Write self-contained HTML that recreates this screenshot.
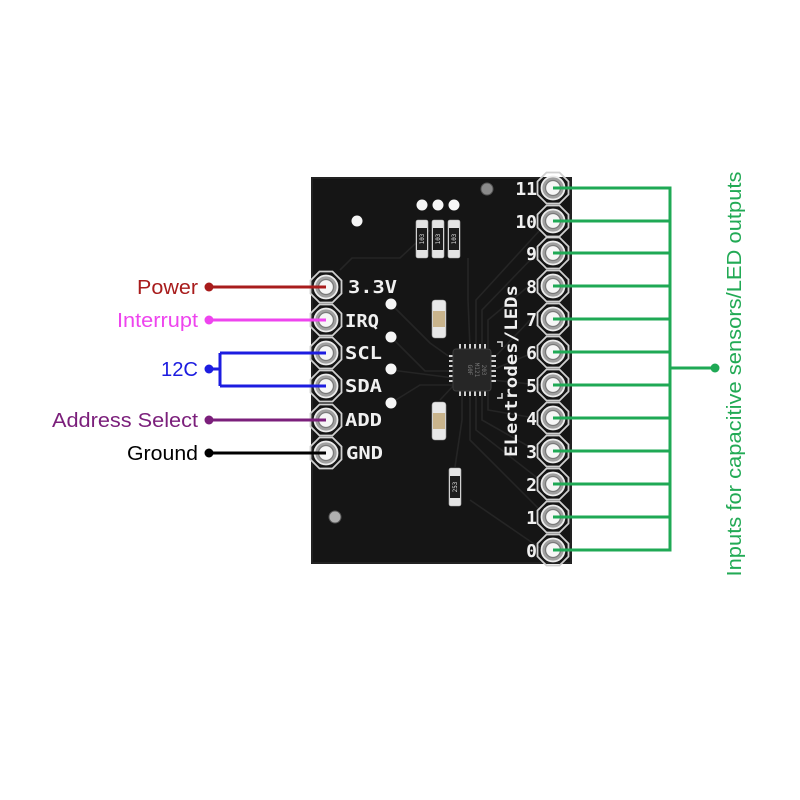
<!DOCTYPE html>
<html><head><meta charset="utf-8"><style>
html,body{margin:0;padding:0;background:#fff;}
svg{display:block;}
</style></head><body>
<svg width="800" height="800" viewBox="0 0 800 800" xmlns="http://www.w3.org/2000/svg">
<defs>
<g id="pin">
<polygon points="-6.5,-15.5 6.5,-15.5 15.5,-6.5 15.5,6.5 6.5,15.5 -6.5,15.5 -15.5,6.5 -15.5,-6.5" fill="none" stroke="#d0d0d0" stroke-width="1.8"/>
<circle r="11.5" fill="#a0a0a0" stroke="#ececec" stroke-width="1.8"/>
<circle r="7.5" fill="#f6f6f6" stroke="#7a7a7a" stroke-width="1.3"/>
</g>
<g id="res">
<rect x="-6" y="-19" width="12" height="38" rx="2" fill="#e4e4e4" stroke="#aaa" stroke-width="0.6"/>
<rect x="-5" y="-11" width="10" height="22" fill="#1c1c1c"/>
</g>
<g id="led">
<rect x="-7" y="-19" width="14" height="38" rx="3" fill="#e8e8e8" stroke="#999" stroke-width="0.6"/>
<rect x="-6" y="-8" width="12" height="16" fill="#c9b48c"/>
</g>
</defs>

<!-- board -->
<rect x="311" y="177" width="261" height="387" fill="#151515"/>
<rect x="312" y="178" width="259" height="385" fill="none" stroke="#262626" stroke-width="1.5"/>

<!-- traces -->
<g stroke="#252525" stroke-width="1.6" fill="none">
<path d="M340 270 L352 258 L400 258 L430 230"/>
<path d="M391 304 L430 343 L454 360"/>
<path d="M391 337 L425 371 L454 371"/>
<path d="M391 370 L454 378"/>
<path d="M391 403 L420 385 L454 385"/>
<path d="M468 258 L468 300 L470 348"/>
<path d="M476 348 L476 300 L540 230"/>
<path d="M482 348 L482 310 L535 255"/>
<path d="M488 348 L488 320 L530 285"/>
<path d="M492 360 L530 320"/>
<path d="M492 370 L535 352"/>
<path d="M492 380 L540 385"/>
<path d="M470 392 L470 440 L540 510"/>
<path d="M476 392 L476 430 L540 480"/>
<path d="M482 392 L482 420 L535 450"/>
<path d="M488 392 L488 410 L535 418"/>
<path d="M462 392 L462 420 L455 467"/>
<path d="M454 385 L440 400"/>
<path d="M470 500 L540 548"/>
</g>

<!-- vias -->
<circle cx="357" cy="221" r="5.5" fill="#f6f6f6"/>
<circle cx="422" cy="205" r="5.5" fill="#f6f6f6"/>
<circle cx="438" cy="205" r="5.5" fill="#f6f6f6"/>
<circle cx="454" cy="205" r="5.5" fill="#f6f6f6"/>
<circle cx="391" cy="304" r="5.5" fill="#f6f6f6"/>
<circle cx="391" cy="337" r="5.5" fill="#f6f6f6"/>
<circle cx="391" cy="369" r="5.5" fill="#f6f6f6"/>
<circle cx="391" cy="403" r="5.5" fill="#f6f6f6"/>
<circle cx="487" cy="189" r="6" fill="#8a8a8a" stroke="#555" stroke-width="1"/>
<circle cx="335" cy="517" r="6" fill="#b0b0b0" stroke="#555" stroke-width="1"/>

<!-- resistors -->
<use href="#res" x="422" y="239"/>
<use href="#res" x="438" y="239"/>
<use href="#res" x="454" y="239"/>
<g font-family="'DejaVu Sans Mono',monospace" font-size="6" fill="#ddd">
<text transform="translate(424,239) rotate(-90)" text-anchor="middle">103</text>
<text transform="translate(440,239) rotate(-90)" text-anchor="middle">103</text>
<text transform="translate(456,239) rotate(-90)" text-anchor="middle">103</text>
</g>
<use href="#led" x="439" y="319"/>
<use href="#led" x="439" y="421"/>
<use href="#res" x="455" y="487"/>
<text transform="translate(457,487) rotate(-90)" text-anchor="middle" font-family="'DejaVu Sans Mono',monospace" font-size="6" fill="#ddd">253</text>

<!-- chip -->
<g fill="#cfcfcf">
<rect x="459" y="344" width="2" height="5"/><rect x="464" y="344" width="2" height="5"/><rect x="469" y="344" width="2" height="5"/><rect x="474" y="344" width="2" height="5"/><rect x="479" y="344" width="2" height="5"/><rect x="484" y="344" width="2" height="5"/>
<rect x="459" y="391" width="2" height="5"/><rect x="464" y="391" width="2" height="5"/><rect x="469" y="391" width="2" height="5"/><rect x="474" y="391" width="2" height="5"/><rect x="479" y="391" width="2" height="5"/><rect x="484" y="391" width="2" height="5"/>
<rect x="449" y="355" width="5" height="2"/><rect x="449" y="360" width="5" height="2"/><rect x="449" y="365" width="5" height="2"/><rect x="449" y="370" width="5" height="2"/><rect x="449" y="375" width="5" height="2"/><rect x="449" y="380" width="5" height="2"/>
<rect x="491" y="355" width="5" height="2"/><rect x="491" y="360" width="5" height="2"/><rect x="491" y="365" width="5" height="2"/><rect x="491" y="370" width="5" height="2"/><rect x="491" y="375" width="5" height="2"/><rect x="491" y="380" width="5" height="2"/>
</g>
<rect x="453" y="349" width="38" height="42" rx="3" fill="#262626" stroke="#3a3a3a"/>
<g font-family="'DejaVu Sans Mono',monospace" font-size="6" fill="#777">
<text transform="translate(482,370) rotate(90)" text-anchor="middle">203</text>
<text transform="translate(475,370) rotate(90)" text-anchor="middle">M121</text>
<text transform="translate(468,370) rotate(90)" text-anchor="middle">G0F</text>
</g>
<g stroke="#ddd" stroke-width="1.5" fill="none">
<path d="M497 342 L502 342 L502 347"/>
<path d="M497 398 L502 398 L502 393"/>
</g>

<!-- left header -->
<use href="#pin" x="326" y="287"/>
<use href="#pin" x="326" y="320"/>
<use href="#pin" x="326" y="353"/>
<use href="#pin" x="326" y="386"/>
<use href="#pin" x="326" y="420"/>
<use href="#pin" x="326" y="453"/>

<!-- right header -->
<use href="#pin" x="553" y="188"/>
<use href="#pin" x="553" y="221"/>
<use href="#pin" x="553" y="253"/>
<use href="#pin" x="553" y="286"/>
<use href="#pin" x="553" y="319"/>
<use href="#pin" x="553" y="352"/>
<use href="#pin" x="553" y="385"/>
<use href="#pin" x="553" y="418"/>
<use href="#pin" x="553" y="451"/>
<use href="#pin" x="553" y="484"/>
<use href="#pin" x="553" y="517"/>
<use href="#pin" x="553" y="550"/>

<!-- silkscreen labels -->
<g font-family="'DejaVu Sans Mono','Liberation Mono',monospace" font-weight="bold" font-size="18" fill="#f0f0f0">
<text x="348" y="293" textLength="49" lengthAdjust="spacingAndGlyphs">3.3V</text>
<text x="345" y="327" textLength="34" lengthAdjust="spacingAndGlyphs">IRQ</text>
<text x="345" y="359" textLength="37" lengthAdjust="spacingAndGlyphs">SCL</text>
<text x="345" y="392" textLength="37" lengthAdjust="spacingAndGlyphs">SDA</text>
<text x="345" y="426" textLength="37" lengthAdjust="spacingAndGlyphs">ADD</text>
<text x="346" y="459" textLength="37" lengthAdjust="spacingAndGlyphs">GND</text>
</g>
<g font-family="'DejaVu Sans Mono','Liberation Mono',monospace" font-weight="bold" font-size="18" fill="#f0f0f0" text-anchor="end">
<text x="537" y="195">11</text>
<text x="537" y="228">10</text>
<text x="537" y="260">9</text>
<text x="537" y="293">8</text>
<text x="537" y="326">7</text>
<text x="537" y="359">6</text>
<text x="537" y="392">5</text>
<text x="537" y="425">4</text>
<text x="537" y="458">3</text>
<text x="537" y="491">2</text>
<text x="537" y="524">1</text>
<text x="537" y="557">0</text>
</g>
<text transform="translate(517,371) rotate(-90)" text-anchor="middle" font-family="'DejaVu Sans Mono','Liberation Mono',monospace" font-weight="bold" font-size="17" fill="#f0f0f0" textLength="172" lengthAdjust="spacingAndGlyphs">ELectrodes/LEDs</text>

<!-- left connectors -->
<g stroke-width="3" fill="none">
<line x1="209" y1="287" x2="326" y2="287" stroke="#a81c1c"/>
<line x1="209" y1="320" x2="326" y2="320" stroke="#ee44ee"/>
<path d="M209 369 L220 369 M220 353 L220 386 M220 353 L326 353 M220 386 L326 386" stroke="#1c1ce0"/>
<line x1="209" y1="420" x2="326" y2="420" stroke="#7b1f7b"/>
<line x1="209" y1="453" x2="326" y2="453" stroke="#000"/>
</g>
<circle cx="209" cy="287" r="4.5" fill="#a81c1c"/>
<circle cx="209" cy="320" r="4.5" fill="#ee44ee"/>
<circle cx="209" cy="369" r="4.5" fill="#1c1ce0"/>
<circle cx="209" cy="420" r="4.5" fill="#7b1f7b"/>
<circle cx="209" cy="453" r="4.5" fill="#000"/>

<g font-family="'Liberation Sans',Arial,sans-serif" font-size="20" text-anchor="end">
<text x="198" y="294" fill="#a81c1c" textLength="61" lengthAdjust="spacingAndGlyphs">Power</text>
<text x="198" y="327" fill="#ee44ee" textLength="81" lengthAdjust="spacingAndGlyphs">Interrupt</text>
<text x="198" y="376" fill="#1c1ce0" textLength="37" lengthAdjust="spacingAndGlyphs">12C</text>
<text x="198" y="427" fill="#7b1f7b" textLength="146" lengthAdjust="spacingAndGlyphs">Address Select</text>
<text x="198" y="460" fill="#000" textLength="71" lengthAdjust="spacingAndGlyphs">Ground</text>
</g>

<!-- right connectors -->
<g stroke="#1fa955" stroke-width="3" fill="none">
<line x1="553" y1="188" x2="671" y2="188"/>
<line x1="553" y1="221" x2="671" y2="221"/>
<line x1="553" y1="253" x2="671" y2="253"/>
<line x1="553" y1="286" x2="671" y2="286"/>
<line x1="553" y1="319" x2="671" y2="319"/>
<line x1="553" y1="352" x2="671" y2="352"/>
<line x1="553" y1="385" x2="671" y2="385"/>
<line x1="553" y1="418" x2="671" y2="418"/>
<line x1="553" y1="451" x2="671" y2="451"/>
<line x1="553" y1="484" x2="671" y2="484"/>
<line x1="553" y1="517" x2="671" y2="517"/>
<line x1="553" y1="550" x2="671" y2="550"/>
<line x1="670" y1="186.5" x2="670" y2="551.5"/>
<line x1="670" y1="368" x2="715" y2="368"/>
</g>
<circle cx="715" cy="368" r="4.5" fill="#1fa955"/>
<text transform="translate(741,374) rotate(-90)" text-anchor="middle" font-family="'Liberation Sans',Arial,sans-serif" font-size="20" fill="#22aa55" textLength="405" lengthAdjust="spacingAndGlyphs">Inputs for capacitive sensors/LED outputs</text>
</svg>
</body></html>
